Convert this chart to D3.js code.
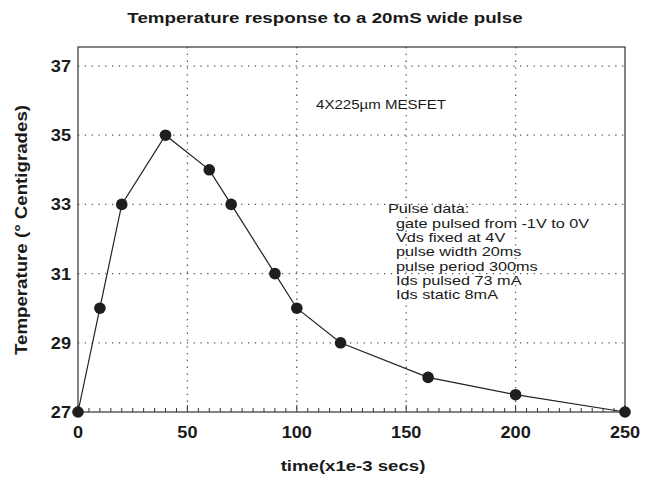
<!DOCTYPE html>
<html>
<head>
<meta charset="utf-8">
<script src="https://cdn.jsdelivr.net/npm/d3@7"></script>
<style>
  body { margin: 0; background: #fff; }
  text { font-family: "Liberation Sans", Arial, sans-serif; fill: #1a1a1a; }
</style>
</head>
<body>
<script>
// data
var times = [0, 10, 20, 40, 60, 70, 90, 100, 120, 160, 200, 250]
var temps = [27, 30, 33, 35, 34, 33, 31, 30, 29, 28, 27.5, 27]
var xTicks = [0, 50, 100, 150, 200, 250]
var yTicks = [27, 29, 31, 33, 35, 37]
var pulseNotes = ["gate pulsed from -1V to 0V", "Vds fixed at 4V", "pulse width 20ms",
                  "pulse period 300ms", "Ids pulsed 73 mA", "Ids static 8mA"]

var width = 656, height = 477
var plotLeft = 78, plotRight = 625, plotTop = 47, plotBottom = 412

var svg = d3.select("body").append("svg")
    .attr("width", width)
    .attr("height", height)

var x = d3.scaleLinear([0, 250], [plotLeft, plotRight])
var y = d3.scaleLinear([27, 37.55], [plotBottom, plotTop])

// the scanned font is wider than Liberation, so stretch text sideways
function wideText(px, py, size, sx, bold) {
    return svg.append("text")
        .attr("transform", "translate(" + px + "," + py + ") scale(" + sx + ",1)")
        .attr("font-size", size)
        .attr("font-weight", bold ? "bold" : "normal")
}

// dotted grid
svg.selectAll(".vgrid")
    .data(xTicks.slice(1, -1))
    .join("line")
    .attr("x1", d => x(d)).attr("x2", d => x(d))
    .attr("y1", plotTop).attr("y2", plotBottom)
    .attr("stroke", "#555")
    .attr("stroke-width", 1.3)
    .attr("stroke-dasharray", "1.3 5.5")

svg.selectAll(".hgrid")
    .data(yTicks.slice(1))
    .join("line")
    .attr("x1", plotLeft).attr("x2", plotRight)
    .attr("y1", d => y(d)).attr("y2", d => y(d))
    .attr("stroke", "#555")
    .attr("stroke-width", 1.3)
    .attr("stroke-dasharray", "1.3 5.5")

// frame
svg.append("rect")
    .attr("x", plotLeft).attr("y", plotTop)
    .attr("width", plotRight - plotLeft).attr("height", plotBottom - plotTop)
    .attr("fill", "none")
    .attr("stroke", "#333")
    .attr("stroke-width", 1.2)

// minor ticks on the time axis, pointing up
svg.selectAll(".minor")
    .data(d3.range(0, 251, 5))
    .join("line")
    .attr("x1", d => x(d)).attr("x2", d => x(d))
    .attr("y1", plotBottom).attr("y2", d => d % 50 == 0 ? plotBottom - 7 : plotBottom - 4)
    .attr("stroke", "#333")

// tick labels
xTicks.forEach(function(t) {
    wideText(x(t), plotBottom + 26, 16.5, 1.1, true)
        .attr("text-anchor", "middle")
        .text(t)
})

yTicks.forEach(function(t) {
    wideText(plotLeft - 7, y(t) + 6, 16.5, 1.1, true)
        .attr("text-anchor", "end")
        .text(t)
})

// the curve
var pts = times.map((t, i) => [t, temps[i]])
svg.append("path")
    .datum(pts)
    .attr("d", d3.line().x(d => x(d[0])).y(d => y(d[1])))
    .attr("fill", "none")
    .attr("stroke", "#222")
    .attr("stroke-width", 1.2)

svg.selectAll(".dot")
    .data(pts)
    .join("circle")
    .attr("cx", d => x(d[0]))
    .attr("cy", d => y(d[1]))
    .attr("r", 5.8)
    .attr("fill", "#1e1e1e")

// titles
wideText(325, 23, 15.5, 1.21, true)
    .attr("text-anchor", "middle")
    .text("Temperature response to a 20mS wide pulse")

wideText(353, 471, 15.5, 1.2, true)
    .attr("text-anchor", "middle")
    .text("time(x1e-3 secs)")

svg.append("text")
    .attr("transform", "translate(27,230) rotate(-90)")
    .attr("text-anchor", "middle")
    .attr("font-size", 16)
    .attr("font-weight", "bold")
    .attr("textLength", 250)
    .attr("lengthAdjust", "spacingAndGlyphs")
    .text("Temperature (° Centigrades)")

// notes
wideText(316, 109, 13, 1.16, false)
    .text("4X225µm MESFET")

wideText(388, 213, 13, 1.25, false)
    .text("Pulse data:")

pulseNotes.forEach(function(s, i) {
    wideText(396, 228 + i * 14.2, 13, 1.25, false).text(s)
})
</script>
</body>
</html>
